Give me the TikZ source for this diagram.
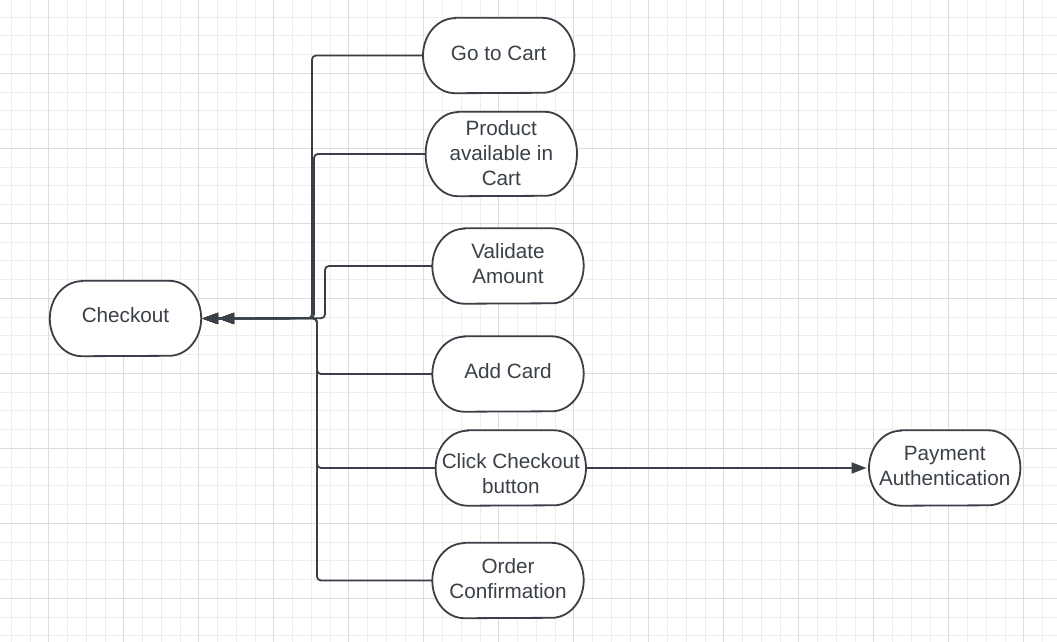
\documentclass[tikz,border=0pt]{standalone}
\usepackage{fontspec}
\setmainfont{Liberation Sans}
\usetikzlibrary{arrows.meta}
\definecolor{stroke}{HTML}{3A4047}
\definecolor{txt}{HTML}{3B4148}
\definecolor{gminor}{HTML}{EDEDED}
\definecolor{gmajor}{HTML}{DCDCDC}
\pgfdeclarelayer{gridlayer}
\pgfdeclarelayer{shapelayer}
\pgfsetlayers{gridlayer,shapelayer,main}
\newcommand\lifted[2]{\raisebox{#1}[\height][\depth]{\begin{tabular}{@{}c@{}}#2\end{tabular}}}
\newcommand\capsule[2]{% node name, half height
  \begin{pgfonlayer}{shapelayer}
  \path[capsuleline] ([xshift=32pt]#1.north west) -- ([xshift=-32pt]#1.north east)
    arc[start angle=90, end angle=-90, x radius=32pt, y radius=#2pt]
    -- ([xshift=32pt]#1.south west)
    arc[start angle=270, end angle=90, x radius=32pt, y radius=#2pt] -- cycle;
  \end{pgfonlayer}}
\begin{document}
\begin{tikzpicture}[x=1pt,y=-1pt,
  stepbox/.style={rectangle, minimum width=151pt, minimum height=75pt,
    inner sep=0pt, text=txt, font=\fontsize{20.7}{25}\selectfont},
  capsuleline/.style={draw=stroke, line width=1.8pt, fill=white},
  conn/.style={draw=stroke, line width=1.8pt, rounded corners=4pt},
  dbl/.style={-{Triangle[length=16pt,width=11pt]Triangle[length=16pt,width=11pt]}},
  single/.style={-{Triangle[length=15pt,width=11pt]}},
  minor/.style={draw=gminor, line width=0.8pt},
  major/.style={draw=gmajor, line width=1pt}]
\useasboundingbox (0,0) rectangle (1057,642);
\begin{pgfonlayer}{gridlayer}
\fill[white] (0,0) rectangle (1057,642);
\foreach \i in {0,...,56} {\draw[minor] ({11.2+18.75*\i},0) -- ({11.2+18.75*\i},642);}
\foreach \j in {1,...,34} {\draw[minor] (0,{-1.7+18.75*\j}) -- (1057,{-1.7+18.75*\j});}
\foreach \i in {0,...,13} {\draw[major] ({48.7+75*\i},0) -- ({48.7+75*\i},642);}
\foreach \j in {0,...,7} {\draw[major] (0,{73.3+75*\j}) -- (1057,{73.3+75*\j});}
\end{pgfonlayer}
% nodes
\node[stepbox] (chk) at (125.5,318.5) {\lifted{1pt}{Checkout}};
\node[stepbox] (gc) at (498.7,55.5) {\lifted{0pt}{Go to Cart}};
\node[stepbox, minimum height=84pt] (pac) at (501.3,154) {\lifted{-1pt}{Product\\available in\\Cart}};
\node[stepbox] (va) at (508,266) {\lifted{0pt}{Validate\\Amount}};
\node[stepbox] (ac) at (508,374) {\lifted{1pt}{Add Card}};
\node[stepbox, minimum width=150pt] (cc) at (510.8,468) {\lifted{-8pt}{Click Checkout\\button}};
\node[stepbox] (oc) at (508,580.5) {\lifted{0pt}{Order\\Confirmation}};
\node[stepbox] (pa) at (944.7,468) {\lifted{0pt}{Payment\\Authentication}};
\capsule{chk}{37.5}
\capsule{gc}{37.5}
\capsule{pac}{42}
\capsule{va}{37.5}
\capsule{ac}{37.5}
\capsule{cc}{37.5}
\capsule{oc}{37.5}
\capsule{pa}{37.5}
% connectors
\draw[conn, dbl, shorten >=1pt] (gc.west) -| (312,318.3) -- (chk.east);
\draw[conn, dbl, shorten >=1pt] (pac.west) -| (314,318.3) -- (chk.east);
\draw[conn, dbl, shorten >=1pt] (va.west) -| (325,318.3) -- (chk.east);
\draw[conn, dbl, shorten >=1pt] (ac.west) -| (317,318.3) -- (chk.east);
\draw[conn, dbl, shorten >=1pt] (cc.west) -| (317,318.3) -- (chk.east);
\draw[conn, dbl, shorten >=1pt] (oc.west) -| (317,318.3) -- (chk.east);
\draw[conn, single, shorten >=2.5pt] (cc.east) -- (pa.west);
\end{tikzpicture}
\end{document}
